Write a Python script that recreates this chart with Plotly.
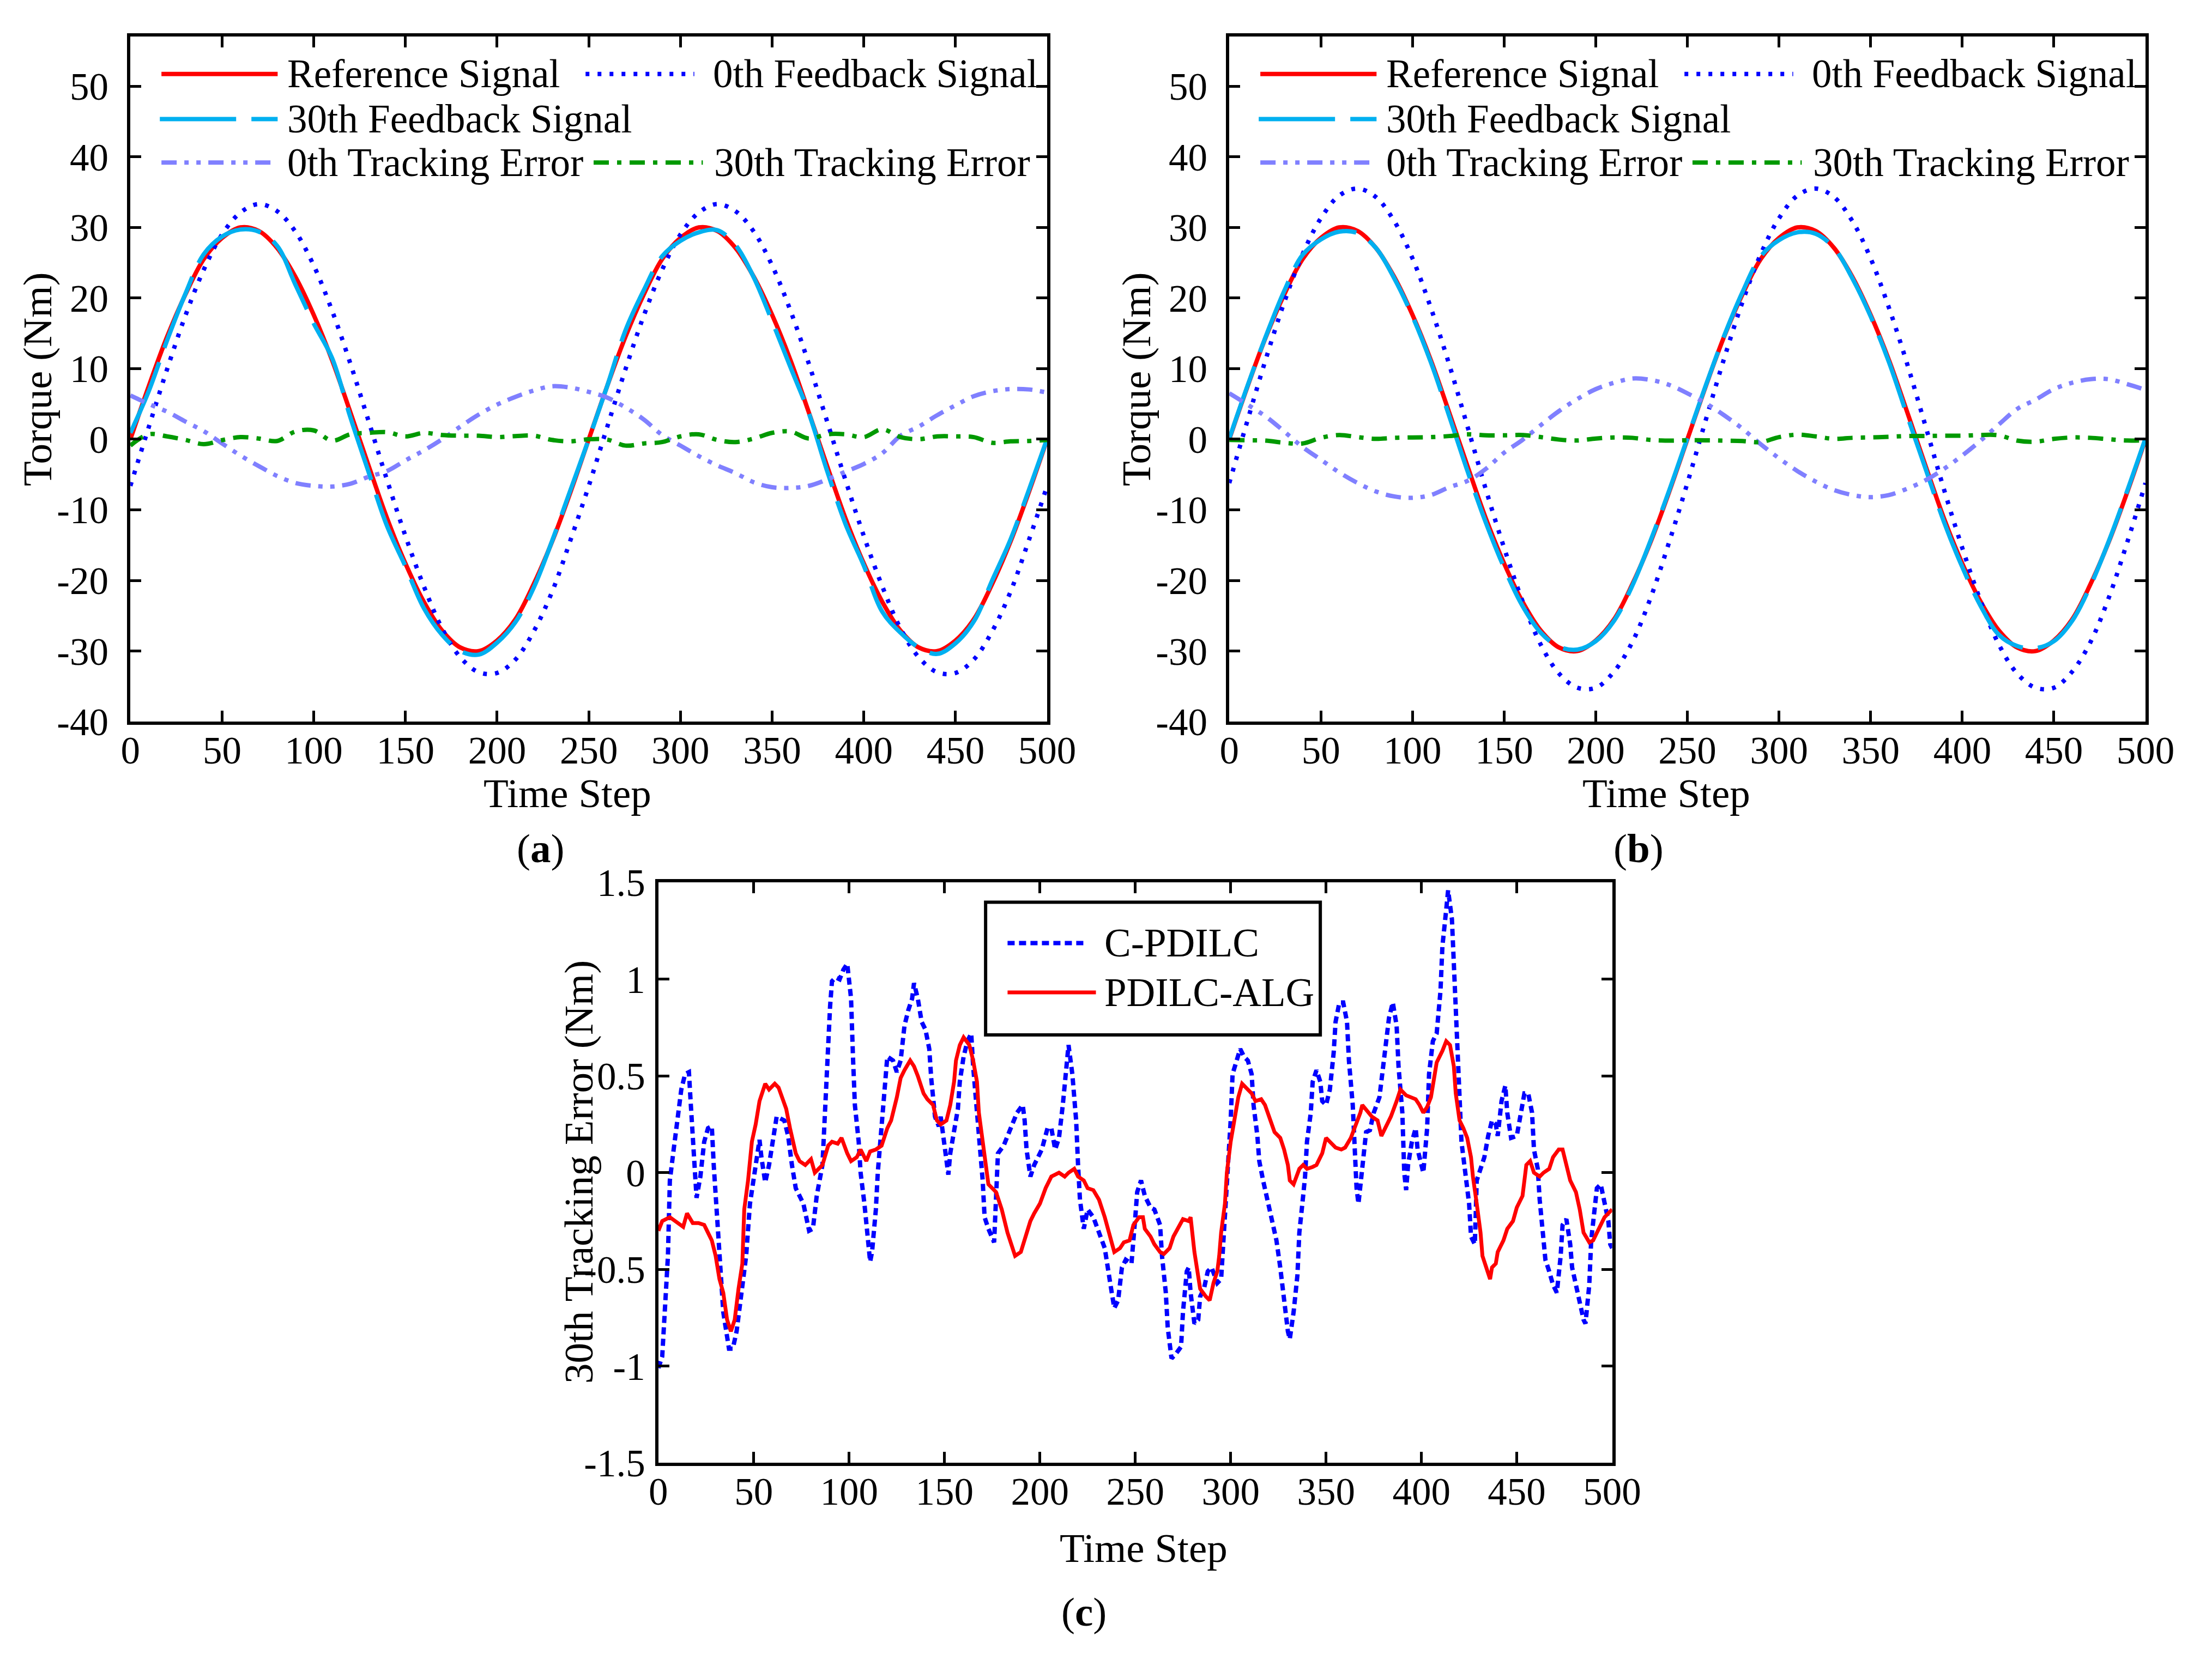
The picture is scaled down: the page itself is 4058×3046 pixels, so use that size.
import plotly.graph_objects as go

W, H = 4058, 3046          # browser window
PAGE_MARGIN = 8            # default body margin of the html page
FW, FH = W - 2 * PAGE_MARGIN, H - 2 * PAGE_MARGIN
FONT = "Liberation Serif"

# ---------------- data ----------------
time_steps = list(range(0, 501, 10))
x_ticks = list(range(0, 501, 50))
y_ticks_ab = [-40, -30, -20, -10, 0, 10, 20, 30, 40, 50]
y_ticks_c = [-1.5, -1.0, -0.5, 0.0, 0.5, 1.0, 1.5]
y_ticktext_c = ["-1.5", "-1", "-0.5", "0", "0.5", "1", "1.5"]

reference_signal = [0, 7.5, 14.5, 20.5, 25.5, 28.5, 30.0, 29.5, 27.1, 23.0, 17.6, 11.2, 3.8,
                    -3.8, -11.2, -17.6, -23.0, -27.1, -29.5, -30.0, -28.5, -25.5, -20.5, -14.5, -7.5,
                    0, 7.5, 14.5, 20.5, 25.5, 28.5, 30.0, 29.5, 27.1, 23.0, 17.6, 11.2, 3.8,
                    -3.8, -11.2, -17.6, -23.0, -27.1, -29.5, -30.0, -28.5, -25.5, -20.5, -14.5, -7.5, 0]

# panel (a)
fb0_a = [-6.6, 1.7, 9.9, 17.5, 24.0, 29.0, 32.1, 33.3, 32.3, 29.4, 24.6, 18.2, 10.7, 2.5,
         -5.8, -13.7, -20.8, -26.8, -30.9, -33.0, -33.1, -31.2, -27.2, -21.6, -14.3,
         -6.6, 1.7, 9.9, 17.5, 24.0, 29.0, 32.1, 33.3, 32.3, 29.4, 24.6, 18.2, 10.7, 2.5,
         -5.8, -13.7, -20.8, -26.8, -30.9, -33.0, -33.1, -31.2, -27.2, -21.6, -14.3, -6.6]
fb30_a = [0.9, 6.8, 14.0, 20.6, 26.2, 28.7, 29.7, 29.4, 27.4, 21.9, 16.4, 11.5, 3.1, -4.7,
          -12.3, -18.0, -23.9, -27.7, -30.0, -30.5, -28.8, -25.9, -21.0, -14.4, -7.2, 0.0,
          7.5, 15.4, 21.1, 25.9, 28.1, 29.3, 29.6, 27.5, 22.9, 16.7, 10.2, 3.7, -4.5, -12.0,
          -17.9, -24.4, -27.4, -29.5, -30.4, -28.9, -25.8, -20.0, -14.2, -7.2, 0.1]
err0_a = [6.2, 5.0, 3.9, 2.5, 1.15, -0.6, -2.3, -3.8, -5.2, -6.2, -6.6, -6.7, -6.3, -5.3,
          -4.5, -3.0, -1.6, 0.0, 1.8, 3.5, 4.9, 6.0, 6.9, 7.5, 7.3, 6.7, 5.9, 4.5, 2.8, 0.6,
          -0.9, -2.4, -3.7, -4.8, -6.1, -6.8, -6.9, -6.6, -5.7, -4.6, -3.5, -2.0, 0.5, 1.8,
          3.4, 4.8, 6.1, 6.8, 7.1, 7.05, 6.6]
err30_a = [-0.9, 0.7, 0.4, -0.1, -0.7, -0.13, 0.3, 0.1, -0.25, 1.1, 1.25, -0.2, 0.7, 0.9,
           1.0, 0.4, 0.9, 0.6, 0.5, 0.5, 0.3, 0.45, 0.5, -0.1, -0.3, 0.0, -0.05, -0.9, -0.6,
           -0.4, 0.4, 0.7, -0.1, -0.4, 0.1, 0.9, 1.1, 0.1, 0.7, 0.7, 0.3, 1.4, 0.3, 0.0, 0.4,
           0.4, 0.3, -0.5, -0.3, -0.25, -0.1]

# panel (b)
fb0_b = [-6.2, 2.7, 11.4, 19.4, 26.2, 31.3, 34.5, 35.5, 34.3, 30.9, 25.6, 18.6, 10.6, 1.8,
         -7.1, -15.4, -22.9, -29.1, -33.2, -35.2, -35.2, -32.9, -28.7, -22.4, -14.6,
         -6.2, 2.7, 11.4, 19.4, 26.2, 31.3, 34.5, 35.5, 34.3, 30.9, 25.6, 18.6, 10.6, 1.8,
         -7.1, -15.4, -22.9, -29.1, -33.2, -35.2, -35.2, -32.9, -28.7, -22.4, -14.6, -6.2]
fb30_b = [0.1, 7.6, 14.6, 21.0, 26.1, 28.3, 29.4, 29.2, 27.1, 22.8, 17.4, 10.9, 3.3, -4.5,
          -11.8, -18.2, -23.6, -27.4, -29.4, -29.8, -28.6, -25.7, -20.7, -14.3, -7.3, 0.15,
          7.6, 14.6, 20.8, 25.9, 28.2, 29.3, 29.1, 27.1, 22.8, 17.4, 10.9, 3.3, -4.2, -11.7,
          -18.1, -23.6, -27.7, -29.3, -29.6, -28.6, -25.7, -20.7, -14.4, -7.3, 0.15]
err0_b = [6.5, 4.9, 3.2, 1.1, -1.1, -2.9, -4.7, -6.2, -7.4, -8.1, -8.3, -7.9, -6.8, -5.9,
          -4.2, -1.9, -0.1, 2.0, 4.0, 5.7, 7.1, 8.0, 8.6, 8.4, 7.7, 6.5, 5.1, 3.4, 1.5, -0.7,
          -2.7, -4.5, -6.0, -7.2, -7.9, -8.2, -7.9, -7.0, -5.8, -4.2, -2.3, -0.2, 2.1, 4.3,
          5.6, 7.1, 8.0, 8.5, 8.5, 7.8, 7.0]
err30_b = [-0.1, -0.15, -0.2, -0.5, -0.6, 0.2, 0.6, 0.3, 0.05, 0.2, 0.25, 0.3, 0.45, 0.7,
           0.55, 0.55, 0.6, 0.3, -0.05, -0.18, 0.1, 0.25, 0.2, -0.1, -0.2, -0.15, -0.15, -0.2,
           -0.25, -0.4, 0.3, 0.65, 0.4, 0.05, 0.2, 0.26, 0.35, 0.45, 0.46, 0.5, 0.5, 0.6, 0.55,
           -0.2, -0.35, 0.05, 0.25, 0.2, 0.0, -0.18, -0.15]

# panel (c)
cpdilc_t = [0, 2, 5, 6, 8, 10, 12, 14, 16, 17, 19, 20, 22, 24, 26, 28, 29, 31, 33, 34, 37, 39,
            41, 43, 46, 48, 51, 53, 54, 56, 58, 61, 62, 66, 68, 70, 72, 76, 79, 81, 83, 86, 87,
            88, 90, 91, 93, 95, 97, 99, 101, 102, 103, 105, 106, 108, 110, 111, 112, 114, 115,
            117, 119, 120, 123, 125, 127, 129, 131, 133, 134, 136, 138, 140, 142, 143, 145, 147,
            148, 150, 152, 153, 155, 157, 158, 160, 162, 164, 165, 167, 168, 170, 171, 173, 176,
            177, 178, 181, 185, 188, 191, 192, 193, 195, 197, 199, 201, 204, 206, 208, 210, 212,
            214, 215, 217, 219, 220, 221, 223, 225, 228, 231, 234, 237, 239, 241, 243, 245, 248,
            250, 251, 253, 255, 258, 260, 263, 264, 266, 267, 269, 271, 274, 275, 277, 278, 279,
            281, 283, 284, 286, 288, 290, 293, 295, 296, 297, 299, 300, 301, 303, 305, 307, 309,
            311, 312, 314, 315, 317, 320, 322, 324, 326, 328, 330, 331, 333, 335, 336, 338, 339,
            340, 342, 343, 345, 347, 348, 350, 352, 354, 355, 357, 359, 361, 362, 364, 365, 366,
            367, 369, 371, 373, 375, 378, 379, 381, 383, 385, 387, 388, 390, 391, 392, 393, 395,
            397, 398, 400, 401, 403, 404, 406, 408, 410, 411, 413, 414, 416, 417, 418, 419, 420,
            421, 423, 425, 426, 428, 429, 431, 433, 435, 437, 439, 440, 442, 444, 445, 447, 450,
            452, 454, 456, 458, 459, 461, 462, 464, 465, 467, 469, 471, 473, 474, 476, 478, 479,
            481, 483, 485, 486, 488, 489, 491, 492, 494, 496, 498, 499, 500]
cpdilc_err = [-1.01, -0.95, -0.43, -0.04, 0.12, 0.27, 0.43, 0.51, 0.52, 0.35, 0.04, -0.13, -0.02,
              0.16, 0.23, 0.24, 0.04, -0.29, -0.55, -0.72, -0.91, -0.91, -0.82, -0.68, -0.43,
              -0.16, 0.04, 0.17, 0.08, -0.05, 0.04, 0.23, 0.29, 0.27, 0.19, 0.04, -0.08, -0.16,
              -0.30, -0.29, -0.12, 0.04, 0.25, 0.55, 0.86, 0.99, 1.01, 1.00, 1.05, 1.08, 0.90,
              0.60, 0.35, 0.16, 0.0, -0.16, -0.35, -0.46, -0.41, -0.19, 0.0, 0.25, 0.51, 0.60,
              0.58, 0.52, 0.58, 0.76, 0.84, 0.90, 0.98, 0.90, 0.78, 0.74, 0.64, 0.49, 0.29, 0.24,
              0.29, 0.12, -0.01, 0.10, 0.23, 0.33, 0.47, 0.60, 0.68, 0.72, 0.55, 0.31, 0.16,
              -0.04, -0.23, -0.29, -0.36, -0.04, 0.10, 0.14, 0.23, 0.31, 0.35, 0.27, 0.12, -0.02,
              0.04, 0.08, 0.12, 0.23, 0.23, 0.12, 0.18, 0.35, 0.55, 0.66, 0.51, 0.27, 0.04, -0.14,
              -0.29, -0.19, -0.23, -0.31, -0.39, -0.58, -0.70, -0.66, -0.49, -0.45, -0.47, -0.23,
              -0.10, -0.04, -0.12, -0.18, -0.19, -0.27, -0.43, -0.62, -0.80, -0.96, -0.94, -0.90,
              -0.72, -0.51, -0.49, -0.62, -0.78, -0.76, -0.64, -0.60, -0.51, -0.49, -0.57, -0.55,
              -0.39, -0.19, 0.04, 0.27, 0.51, 0.58, 0.64, 0.60, 0.58, 0.51, 0.35, 0.19, 0.06,
              -0.04, -0.18, -0.28, -0.35, -0.49, -0.66, -0.82, -0.86, -0.72, -0.53, -0.31, -0.12,
              -0.02, 0.16, 0.31, 0.47, 0.53, 0.47, 0.37, 0.35, 0.43, 0.62, 0.78, 0.88, 0.88, 0.78,
              0.58, 0.35, 0.12, -0.08, -0.16, 0.04, 0.21, 0.22, 0.31, 0.39, 0.47, 0.64, 0.80,
              0.88, 0.76, 0.55, 0.31, 0.0, -0.09, 0.04, 0.16, 0.23, 0.12, 0.04, 0.0, 0.23, 0.51,
              0.68, 0.72, 0.94, 1.17, 1.36, 1.46, 1.31, 1.07, 0.78, 0.58, 0.37, 0.16, 0.0, -0.16,
              -0.33, -0.37, -0.04, 0.02, 0.08, 0.19, 0.27, 0.25, 0.19, 0.37, 0.45, 0.31, 0.18,
              0.19, 0.31, 0.41, 0.41, 0.31, 0.12, 0.02, -0.14, -0.33, -0.45, -0.51, -0.58, -0.62,
              -0.43, -0.27, -0.24, -0.37, -0.49, -0.58, -0.68, -0.76, -0.78, -0.58, -0.35, -0.18,
              -0.08, -0.06, -0.16, -0.25, -0.37, -0.39]

alg_t = [0, 2, 6, 10, 13, 15, 18, 21, 24, 26, 28, 30, 32, 34, 36, 38, 40, 42, 44, 45, 47, 49,
         51, 53, 56, 58, 61, 63, 65, 67, 69, 72, 74, 77, 80, 82, 84, 86, 89, 91, 94, 96, 99,
         101, 104, 106, 109, 111, 114, 117, 120, 122, 125, 127, 129, 132, 134, 136, 139, 141,
         144, 146, 148, 151, 153, 155, 156, 158, 160, 163, 165, 167, 168, 170, 172, 173, 177,
         180, 183, 186, 187, 190, 192, 195, 197, 200, 203, 206, 208, 210, 213, 215, 218, 220,
         223, 225, 228, 231, 234, 237, 239, 242, 244, 247, 249, 252, 254, 255, 258, 260, 263,
         265, 268, 270, 273, 275, 278, 279, 281, 283, 284, 287, 289, 291, 293, 294, 295, 297,
         298, 300, 302, 304, 306, 308, 311, 313, 316, 318, 321, 323, 326, 328, 330, 331, 333,
         336, 338, 340, 343, 345, 348, 350, 353, 355, 358, 360, 363, 365, 368, 369, 372, 374,
         377, 379, 382, 384, 387, 389, 392, 394, 397, 399, 401, 403, 405, 407, 408, 411, 413,
         415, 417, 418, 420, 422, 424, 426, 427, 429, 431, 432, 434, 436, 437, 439, 440, 443,
         445, 448, 450, 453, 455, 457, 459, 462, 464, 467, 469, 472, 474, 476, 478, 481, 483,
         485, 488, 490, 493, 496, 498, 500]
alg_err = [-0.30, -0.25, -0.23, -0.26, -0.28, -0.21, -0.26, -0.26, -0.27, -0.31, -0.35, -0.43,
           -0.55, -0.62, -0.76, -0.82, -0.76, -0.60, -0.47, -0.19, -0.04, 0.16, 0.25, 0.37, 0.46,
           0.43, 0.46, 0.44, 0.39, 0.33, 0.23, 0.10, 0.06, 0.04, 0.07, 0.0, 0.02, 0.04, 0.14,
           0.16, 0.15, 0.18, 0.10, 0.06, 0.08, 0.12, 0.06, 0.11, 0.12, 0.14, 0.23, 0.27, 0.39,
           0.49, 0.53, 0.58, 0.55, 0.50, 0.41, 0.38, 0.35, 0.27, 0.25, 0.27, 0.35, 0.47, 0.58,
           0.66, 0.70, 0.66, 0.58, 0.47, 0.31, 0.16, 0.0, -0.06, -0.10, -0.19, -0.31, -0.39,
           -0.43, -0.41, -0.35, -0.25, -0.21, -0.16, -0.08, -0.02, -0.01, 0.0, -0.02, 0.0, 0.02,
           -0.02, -0.04, -0.08, -0.09, -0.14, -0.23, -0.33, -0.41, -0.39, -0.36, -0.35, -0.27,
           -0.23, -0.23, -0.29, -0.33, -0.37, -0.41, -0.42, -0.39, -0.33, -0.27, -0.24, -0.25,
           -0.23, -0.41, -0.53, -0.60, -0.64, -0.66, -0.57, -0.51, -0.43, -0.31, -0.16, 0.0,
           0.16, 0.27, 0.39, 0.46, 0.44, 0.41, 0.37, 0.38, 0.35, 0.27, 0.21, 0.18, 0.12, 0.04,
           -0.04, -0.06, 0.02, 0.04, 0.02, 0.03, 0.04, 0.10, 0.18, 0.15, 0.13, 0.12, 0.13, 0.18,
           0.23, 0.31, 0.35, 0.31, 0.29, 0.27, 0.19, 0.25, 0.29, 0.37, 0.43, 0.40, 0.39, 0.38,
           0.35, 0.31, 0.34, 0.39, 0.51, 0.57, 0.63, 0.68, 0.66, 0.55, 0.41, 0.27, 0.23, 0.18,
           0.08, -0.02, -0.16, -0.31, -0.43, -0.49, -0.55, -0.49, -0.47, -0.41, -0.35, -0.29,
           -0.25, -0.18, -0.12, 0.04, 0.06, 0.0, -0.02, 0.0, 0.02, 0.08, 0.12, 0.12, 0.04,
           -0.04, -0.10, -0.19, -0.31, -0.36, -0.35, -0.29, -0.23, -0.21, -0.19]

# ---------------- styles ----------------
STY = {
    "ref": dict(color="#FF0000", width=8, dash="solid"),
    "fb0": dict(color="#0000FF", width=8, dash="7px,15px"),
    "fb30": dict(color="#00B0F0", width=8, dash="140px,28px"),
    "err0": dict(color="#8080FF", width=8, dash="28px,14px,8px,14px,8px,14px"),
    "err30": dict(color="#009900", width=8, dash="28px,15px,8px,15px"),
    "c_blue": dict(color="#0000FF", width=8, dash="13px,8px"),
    "c_red": dict(color="#FF0000", width=7, dash="solid"),
}
TICK_SIZE = 71
LABEL_SIZE = 75
LEGEND_SIZE = 73


def X(px):
    return (px - PAGE_MARGIN) / FW


def Y(py):
    return 1 - (py - PAGE_MARGIN) / FH


fig = go.Figure()


def add(x, y, key, name, xa, ya, shape="spline"):
    s = STY[key]
    fig.add_trace(go.Scatter(
        x=x, y=y, mode="lines", name=name, showlegend=False, hoverinfo="skip",
        line=dict(color=s["color"], width=s["width"], dash=s["dash"], shape=shape),
        xaxis=xa, yaxis=ya))


for xa, ya, fb0, fb30, e0, e30 in [("x", "y", fb0_a, fb30_a, err0_a, err30_a),
                                   ("x2", "y2", fb0_b, fb30_b, err0_b, err30_b)]:
    add(time_steps, reference_signal, "ref", "Reference Signal", xa, ya)
    add(time_steps, fb0, "fb0", "0th Feedback Signal", xa, ya)
    add(time_steps, fb30, "fb30", "30th Feedback Signal", xa, ya)
    add(time_steps, e0, "err0", "0th Tracking Error", xa, ya)
    add(time_steps, e30, "err30", "30th Tracking Error", xa, ya)

add(cpdilc_t, cpdilc_err, "c_blue", "C-PDILC", "x3", "y3", shape="linear")
add(alg_t, alg_err, "c_red", "PDILC-ALG", "x3", "y3", shape="linear")

# ---------------- axes ----------------
common = dict(showline=True, linecolor="black", linewidth=6, mirror="allticks",
              ticks="inside", ticklen=20, tickwidth=5, tickcolor="black",
              showgrid=False, zeroline=False,
              tickfont=dict(family=FONT, size=TICK_SIZE, color="black"))

panels = {
    "a": dict(x0=225, x1=1937, y0=30, y1=1320),
    "b": dict(x0=2277, x1=3988, y0=30, y1=1320),
    "c": dict(x0=1211, x1=2992, y0=1623, y1=2716),
}


def xdom(p):
    return [X(panels[p]["x0"]), X(panels[p]["x1"])]


def ydom(p):
    return [Y(panels[p]["y1"]), Y(panels[p]["y0"])]


xcfg = dict(range=[0, 500], tickmode="array", tickvals=x_ticks,
            ticktext=[str(v) for v in x_ticks], ticklabelstandoff=-14, **common)
ycfg_ab = dict(range=[-40, 57], tickmode="array", tickvals=y_ticks_ab,
               ticktext=[str(v) for v in y_ticks_ab], ticklabelstandoff=20, **common)
ycfg_c = dict(range=[-1.5, 1.5], tickmode="array", tickvals=y_ticks_c,
              ticktext=y_ticktext_c, ticklabelstandoff=4, **common)

fig.update_layout(
    width=FW, height=FH, margin=dict(l=0, r=0, t=0, b=0),
    paper_bgcolor="white", plot_bgcolor="white", showlegend=False,
    font=dict(family=FONT, color="black"),
    xaxis=dict(domain=xdom("a"), anchor="y", **xcfg),
    yaxis=dict(domain=ydom("a"), anchor="x", **ycfg_ab),
    xaxis2=dict(domain=xdom("b"), anchor="y2", **xcfg),
    yaxis2=dict(domain=ydom("b"), anchor="x2", **ycfg_ab),
    xaxis3=dict(domain=xdom("c"), anchor="y3", **xcfg),
    yaxis3=dict(domain=ydom("c"), anchor="x3", **ycfg_c),
)

shapes = []
annotations = []


def text(px, py, s, size=LEGEND_SIZE, xanchor="left", angle=0):
    annotations.append(dict(x=X(px), y=Y(py), xref="paper", yref="paper", text=s,
                            showarrow=False, xanchor=xanchor, yanchor="middle",
                            textangle=angle,
                            font=dict(family=FONT, size=size, color="black")))


def sample(key, x0, x1, py):
    s = STY[key]
    shapes.append(dict(type="line", xref="paper", yref="paper",
                       x0=X(x0), x1=X(x1), y0=Y(py), y1=Y(py),
                       line=dict(color=s["color"], width=s["width"], dash=s["dash"])))


# legends of panels (a) and (b)
leg_rows = [100, 185, 267]
leg_items = [("ref", "Reference Signal", 0, 283, 500, 516),
             ("fb0", "0th Feedback Signal", 0, 1075, 1278, 1311),
             ("fb30", "30th Feedback Signal", 1, 280, 500, 516),
             ("err0", "0th Tracking Error", 2, 283, 495, 516),
             ("err30", "30th Tracking Error", 2, 1090, 1294, 1313)]
for off in (0, 2052):
    for key, label, row, sx0, sx1, tx in leg_items:
        sample(key, sx0 + off, sx1 + off, leg_rows[row])
        text(tx + off, leg_rows[row], label)

# legend of panel (c)
shapes.append(dict(type="rect", xref="paper", yref="paper",
                   x0=X(1822), x1=X(2447), y0=Y(1910), y1=Y(1660),
                   line=dict(color="black", width=6), fillcolor="white", layer="above"))
sample("c_blue", 1863, 2005, 1737)
text(2042, 1737, "C-PDILC")
sample("c_red", 1863, 2028, 1830)
text(2042, 1830, "PDILC-ALG")

# axis titles and captions
text(52, 675, "Torque (Nm)", size=LABEL_SIZE, xanchor="center", angle=-90)
text(2104, 675, "Torque (Nm)", size=LABEL_SIZE, xanchor="center", angle=-90)
text(1062, 2168, "30th Tracking Error (Nm)", size=LABEL_SIZE, xanchor="center", angle=-90)
text(1041, 1455, "Time Step", size=LABEL_SIZE, xanchor="center")
text(3093, 1455, "Time Step", size=LABEL_SIZE, xanchor="center")
text(2117, 2876, "Time Step", size=LABEL_SIZE, xanchor="center")
text(991, 1558, "(<b>a</b>)", size=LABEL_SIZE, xanchor="center")
text(3041, 1558, "(<b>b</b>)", size=LABEL_SIZE, xanchor="center")
text(2006, 2996, "(<b>c</b>)", size=LABEL_SIZE, xanchor="center")

fig.update_layout(shapes=shapes, annotations=annotations)
fig.write_html("out.html")
